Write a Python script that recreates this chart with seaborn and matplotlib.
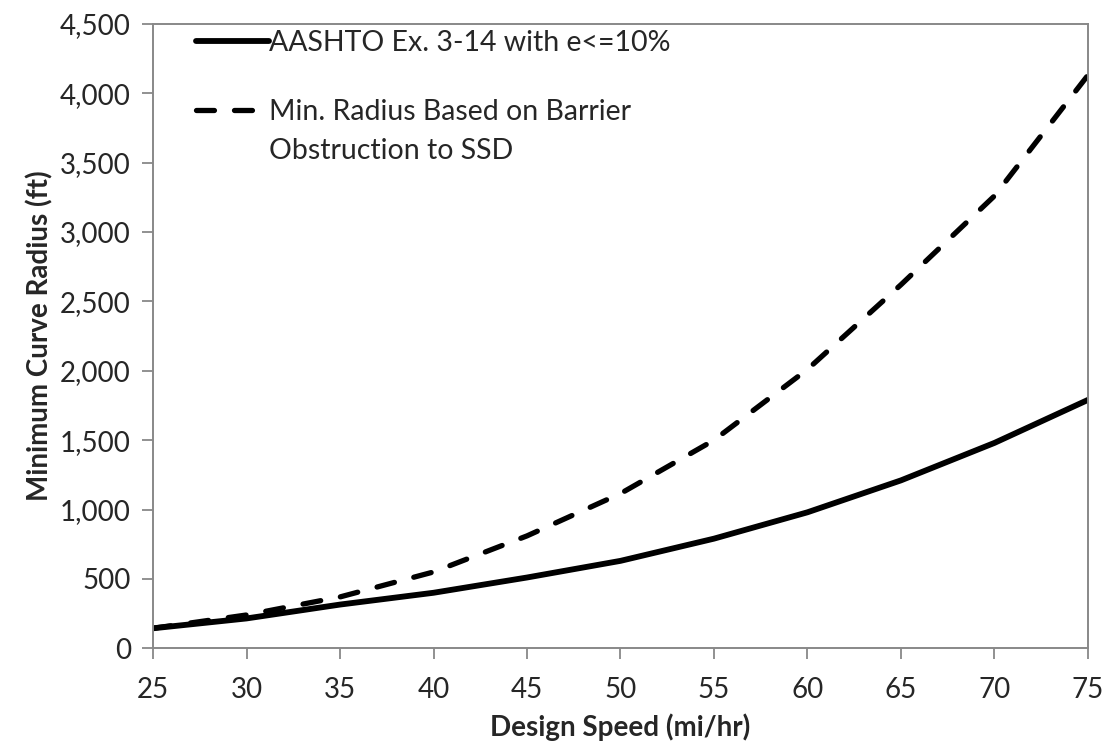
import matplotlib
matplotlib.use("Agg")
import matplotlib.pyplot as plt
import matplotlib.ticker as mticker
import seaborn as sns
import pandas as pd

speed = [25, 30, 35, 40, 45, 50, 55, 60, 65, 70, 75]
aashto = [144, 215, 315, 400, 510, 630, 790, 980, 1210, 1480, 1790]
barrier = [144, 240, 370, 550, 810, 1115, 1500, 2010, 2620, 3260, 4130]
label_aashto = "AASHTO Ex. 3-14 with e<=10%"
label_barrier_1 = "Min. Radius Based on Barrier"
label_barrier_2 = "Obstruction to SSD"
x_ticks = [25, 30, 35, 40, 45, 50, 55, 60, 65, 70, 75]
y_ticks = [0, 500, 1000, 1500, 2000, 2500, 3000, 3500, 4000, 4500]

sns.set_theme(style="white")
plt.rcParams['font.family'] = ['Lato', 'DejaVu Sans']

df = pd.DataFrame({"speed": speed, "aashto": aashto, "barrier": barrier})

fig = plt.figure(figsize=(11.09, 7.46), dpi=100)
ax = fig.add_axes([0.138, 0.131, 0.843, 0.837])

sns.lineplot(data=df, x="speed", y="aashto", ax=ax, color="black", lw=4.2,
             label=label_aashto, solid_capstyle="round")
sns.lineplot(data=df, x="speed", y="barrier", ax=ax, color="black", lw=3.8,
             linestyle=(0, (3.4, 3.8)), dash_capstyle="round", label=label_barrier_1)

ax.set_xlim(25, 75)
ax.set_ylim(0, 4500)
ax.set_xticks(x_ticks)
ax.set_yticks(y_ticks)
ax.yaxis.set_major_formatter(mticker.FuncFormatter(lambda v, p: f"{int(v):,}"))
ax.tick_params(axis="both", which="major", labelsize=20, length=8, width=1.3,
               color="#888888", direction="out", bottom=True, left=True, pad=8)
ax.tick_params(axis="x", pad=13)
for s in ax.spines.values():
    s.set_color("#888888")
    s.set_linewidth(1.4)

ax.set_xlabel("Design Speed (mi/hr)", fontsize=20, fontweight="bold", labelpad=7)
ax.set_ylabel("Minimum Curve Radius (ft)", fontsize=20, fontweight="bold", labelpad=5)

leg = ax.legend(loc="upper left", bbox_to_anchor=(0.034, 1.008), frameon=False,
                fontsize=20.5, handlelength=2.55, handletextpad=0.0,
                labelspacing=1.5, borderaxespad=0.0)

ax.annotate(label_barrier_2, xy=(0, 0), xycoords=leg.get_texts()[1],
            xytext=(0, -39), textcoords="offset pixels", ha="left", va="bottom",
            fontsize=20.5, zorder=10, annotation_clip=False)

fig.savefig("out.png", dpi=100)
